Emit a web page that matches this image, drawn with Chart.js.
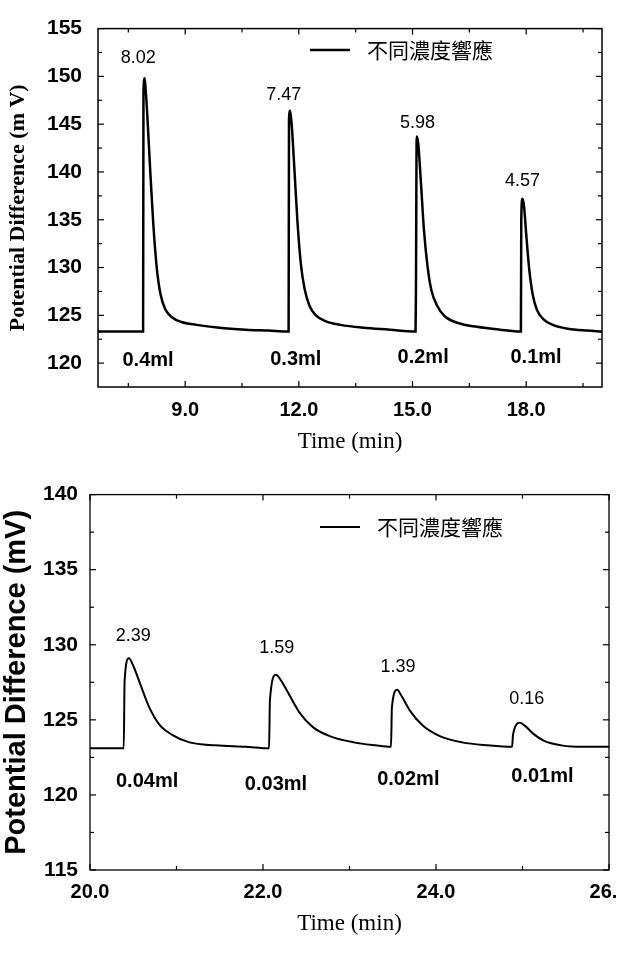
<!DOCTYPE html>
<html>
<head>
<meta charset="utf-8">
<script src="https://cdn.jsdelivr.net/npm/chart.js@4.4.0/dist/chart.umd.min.js"></script>
<style>
  body { margin: 0; background: #fff; width: 618px; height: 960px; position: relative; overflow: hidden; }
  .box { position: absolute; left: 0; width: 618px; }
  #box1 { top: 0; height: 470px; }
  #box2 { top: 470px; height: 490px; }
</style>
</head>
<body>
<div class="box" id="box1"><canvas id="chart1"></canvas></div>
<div class="box" id="box2"><canvas id="chart2"></canvas></div>
<script>
// ---- donnees du graphe du haut (0.4 a 0.1 ml) ----
const topTime = [6.7, 7.3, 7.89, 7.9, 7.93, 7.96, 8.0, 8.08, 8.16, 8.25, 8.35, 8.48, 8.65, 8.9, 9.3, 9.9, 10.6, 11.2,
  11.73, 11.74, 11.77, 11.81, 11.88, 11.96, 12.05, 12.15, 12.28, 12.45, 12.7, 13.1, 13.7, 14.4,
  15.08, 15.09, 15.11, 15.15, 15.22, 15.3, 15.4, 15.5, 15.65, 15.85, 16.2, 16.7, 17.3,
  17.86, 17.87, 17.9, 17.94, 18.0, 18.08, 18.17, 18.28, 18.45, 18.7, 19.1, 19.6, 20.0]
const topValue = [123.3, 123.3, 123.3, 148.2, 149.8, 148.5, 146.0, 140.0, 134.5, 130.0, 127.2, 125.6, 124.8, 124.3, 124.0, 123.7, 123.5, 123.4,
  123.3, 145.5, 146.4, 145.0, 140.5, 135.0, 130.5, 127.8, 126.0, 125.0, 124.4, 124.0, 123.7, 123.5,
  123.3, 127.5, 143.7, 143.0, 139.0, 134.0, 130.0, 127.6, 126.0, 124.9, 124.2, 123.8, 123.5,
  123.3, 135.0, 137.2, 136.5, 133.5, 129.8, 127.2, 125.6, 124.6, 124.0, 123.6, 123.4, 123.3]
const topXTicks = [9, 12, 15, 18]
const topXMinor = [7.5, 10.5, 13.5, 16.5, 19.5]
const topYTicks = [120, 125, 130, 135, 140, 145, 150, 155]
const topYMinor = [122.5, 127.5, 132.5, 137.5, 142.5, 147.5, 152.5]
const topPeakText = ['8.02', '7.47', '5.98', '4.57']
const topPeakX = [7.76, 11.6, 15.13, 17.9]
const topPeakY = [151.9, 148.0, 145.1, 139.0]
const topVolText = ['0.4ml', '0.3ml', '0.2ml', '0.1ml']
const topVolX = [8.02, 11.92, 15.28, 18.26]
const topVolY = [120.3, 120.4, 120.6, 120.6]

// ---- donnees du graphe du bas (0.04 a 0.01 ml) ----
const botTime = [20.0, 20.39, 20.4, 20.45, 20.5, 20.58, 20.68, 20.8, 20.95, 21.15, 21.45, 21.8,
  22.07, 22.08, 22.15, 22.2, 22.3, 22.42, 22.58, 22.78, 23.05, 23.3,
  23.48, 23.49, 23.55, 23.6, 23.7, 23.85, 24.05, 24.3, 24.6,
  24.88, 24.89, 24.97, 25.03, 25.12, 25.25, 25.45, 25.7, 26.0]
const botValue = [123.1, 123.1, 127.6, 129.1, 128.6, 127.4, 125.9, 124.7, 124.0, 123.5, 123.3, 123.2,
  123.1, 126.3, 128.0, 127.7, 126.7, 125.5, 124.5, 123.9, 123.5, 123.3,
  123.2, 125.8, 127.0, 126.6, 125.6, 124.6, 123.9, 123.5, 123.3,
  123.2, 124.0, 124.8, 124.6, 124.1, 123.6, 123.3, 123.2, 123.2]
const botXTicks = [20, 22, 24, 26]
const botXMinor = [21, 23, 25]
const botYTicks = [115, 120, 125, 130, 135, 140]
const botYMinor = [117.5, 122.5, 127.5, 132.5, 137.5]
const botPeakText = ['2.39', '1.59', '1.39', '0.16']
const botPeakX = [20.5, 22.16, 23.56, 25.05]
const botPeakY = [130.6, 129.8, 128.5, 126.4]
const botVolText = ['0.04ml', '0.03ml', '0.02ml', '0.01ml']
const botVolX = [20.66, 22.15, 23.68, 25.23]
const botVolY = [120.9, 120.7, 121.05, 121.2]

const legendText = '不同濃度響應'

// cadre, petites graduations vers l'interieur, textes et legende
const framePlugin = {
  id: 'frame',
  afterDatasetsDraw(chart, args, o) {
    const ctx = chart.ctx
    const a = chart.chartArea
    const x = chart.scales.x
    const y = chart.scales.y
    ctx.save()
    ctx.strokeStyle = '#000'
    ctx.lineWidth = o.frameWidth
    ctx.strokeRect(a.left, a.top, a.right - a.left, a.bottom - a.top)

    function seg(x1, y1, x2, y2) {
      ctx.beginPath(); ctx.moveTo(x1, y1); ctx.lineTo(x2, y2); ctx.stroke()
    }
    ctx.lineWidth = 1.2
    o.xMajor.concat(o.xMinor).forEach((v, i) => {
      const len = i < o.xMajor.length ? 6 : 4
      const px = x.getPixelForValue(v)
      seg(px, a.bottom, px, a.bottom - len)
      seg(px, a.top, px, a.top + len)
    })
    o.yMajor.concat(o.yMinor).forEach((v, i) => {
      const len = i < o.yMajor.length ? 6 : 4
      const py = y.getPixelForValue(v)
      seg(a.left, py, a.left + len, py)
      seg(a.right, py, a.right - len, py)
    })

    // valeurs des pics
    ctx.fillStyle = '#000'
    ctx.textAlign = 'center'
    ctx.textBaseline = 'middle'
    ctx.font = '18px "Liberation Sans"'
    o.peakText.forEach((t, i) => {
      ctx.fillText(t, x.getPixelForValue(o.peakX[i]), y.getPixelForValue(o.peakY[i]))
    })
    // volumes injectes
    ctx.font = 'bold 20px "Liberation Sans"'
    o.volText.forEach((t, i) => {
      ctx.fillText(t, x.getPixelForValue(o.volX[i]), y.getPixelForValue(o.volY[i]))
    })

    // legende
    ctx.lineWidth = o.legendLine
    seg(o.legendX, o.legendY, o.legendX + 40, o.legendY)
    ctx.textAlign = 'left'
    ctx.font = '21px "Noto Sans CJK TC"'
    ctx.fillText(legendText, o.legendX + 57, o.legendY)
    ctx.restore()
  }
}

function makeChart(id, d) {
  const points = d.time.map((t, i) => ({ x: t, y: d.value[i] }))
  return new Chart(document.getElementById(id), {
    type: 'line',
    data: {
      datasets: [{
        label: legendText,
        data: points,
        borderColor: '#000',
        borderWidth: d.lineWidth,
        pointRadius: 0,
        fill: false,
        cubicInterpolationMode: 'monotone'
      }]
    },
    options: {
      responsive: true,
      maintainAspectRatio: false,
      animation: false,
      layout: { padding: { top: d.padTop, right: d.padRight, left: 0, bottom: 0 } },
      plugins: {
        legend: { display: false },
        tooltip: { enabled: false },
        frame: {
          frameWidth: d.frameWidth,
          xMajor: d.xTicks, xMinor: d.xMinor, yMajor: d.yTicks, yMinor: d.yMinor,
          peakText: d.peakText, peakX: d.peakX, peakY: d.peakY,
          volText: d.volText, volX: d.volX, volY: d.volY,
          legendX: d.legendX, legendY: d.legendY, legendLine: d.legendLine
        }
      },
      scales: {
        x: {
          type: 'linear',
          min: d.xMin, max: d.xMax,
          afterBuildTicks: s => { s.ticks = d.xTicks.map(v => ({ value: v })) },
          // le dernier label (26.0) peut deborder du canvas comme dans l'original
          afterFit: s => { s.height = d.xAxisH; s.paddingLeft = 0; s.paddingRight = 0 },
          grid: { display: false, drawTicks: false },
          border: { display: false },
          ticks: {
            autoSkip: false, maxRotation: 0, padding: d.xTickPad, color: '#000',
            font: { family: 'Liberation Sans', weight: 'bold', size: 20 },
            callback: v => v.toFixed(1)
          },
          title: {
            display: true, text: 'Time (min)', color: '#000',
            font: { family: 'Liberation Serif', size: 23 },
            padding: { top: 0, bottom: d.xTitlePad }
          }
        },
        y: {
          type: 'linear',
          min: d.yMin, max: d.yMax,
          afterBuildTicks: s => { s.ticks = d.yTicks.map(v => ({ value: v })) },
          afterFit: s => { s.width = d.yAxisW },
          grid: { display: false, drawTicks: false },
          border: { display: false },
          ticks: {
            autoSkip: false, padding: d.yTickPad, color: '#000',
            font: { family: 'Liberation Sans', weight: 'bold', size: 21 }
          },
          title: {
            display: true, text: d.yTitle, color: '#000',
            font: d.yTitleFont,
            padding: { top: d.yTitlePad, bottom: 0 }
          }
        }
      }
    },
    plugins: [framePlugin]
  })
}

makeChart('chart1', {
  time: topTime, value: topValue, lineWidth: 2.5, frameWidth: 1.5,
  xMin: 6.7, xMax: 20, yMin: 117.5, yMax: 155,
  xTicks: topXTicks, xMinor: topXMinor, yTicks: topYTicks, yMinor: topYMinor,
  peakText: topPeakText, peakX: topPeakX, peakY: topPeakY,
  volText: topVolText, volX: topVolX, volY: topVolY,
  legendX: 310, legendY: 50, legendLine: 2.5,
  padTop: 22, padRight: 16, xAxisH: 83, yAxisW: 98,
  xTickPad: 11, yTickPad: 16, xTitlePad: 14, yTitlePad: 5,
  yTitle: 'Potential Difference (m V)',
  yTitleFont: { family: 'Liberation Serif', weight: 'bold', size: 22 }
})

makeChart('chart2', {
  time: botTime, value: botValue, lineWidth: 2, frameWidth: 1.3,
  xMin: 20, xMax: 26, yMin: 115, yMax: 140,
  xTicks: botXTicks, xMinor: botXMinor, yTicks: botYTicks, yMinor: botYMinor,
  peakText: botPeakText, peakX: botPeakX, peakY: botPeakY,
  volText: botVolText, volX: botVolX, volY: botVolY,
  legendX: 320, legendY: 57, legendLine: 1.8,
  padTop: 20, padRight: 9, xAxisH: 90, yAxisW: 90,
  xTickPad: 10, yTickPad: 12, xTitlePad: 22, yTitlePad: 0,
  yTitle: 'Potential Difference (mV)',
  yTitleFont: { family: 'Liberation Sans', weight: 'bold', size: 29 }
})
</script>
</body>
</html>
